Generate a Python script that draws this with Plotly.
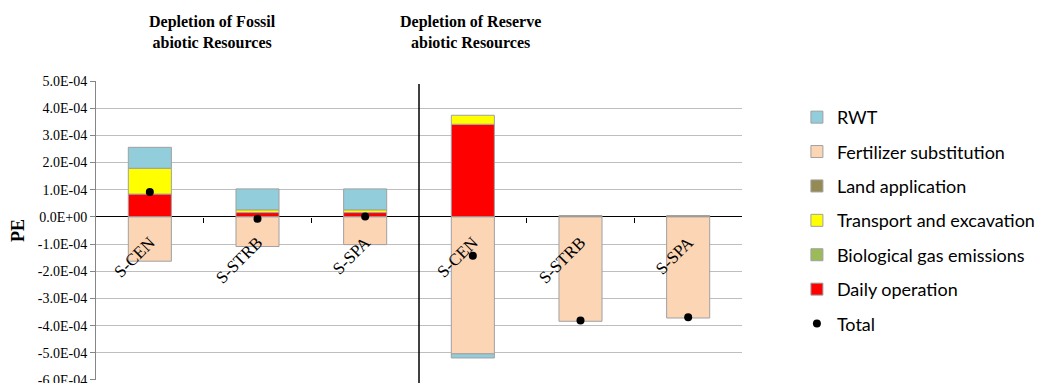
import plotly.graph_objects as go

categories = ["S-CEN", "S-STRB", "S-SPA", "S-CEN", "S-STRB", "S-SPA"]
x_pos = [0, 1, 2, 3, 4, 5]

daily_operation = [0.84e-4, 0.16e-4, 0.16e-4, 3.41e-4, None, None]
biological_gas = [None, None, None, None, None, None]
transport_excavation = [0.95e-4, 0.10e-4, 0.10e-4, 0.33e-4, None, None]
land_application = [None, None, None, None, 0.05e-4, 0.05e-4]
fertilizer_substitution = [-1.63e-4, -1.09e-4, -1.02e-4, -5.04e-4, -3.84e-4, -3.72e-4]
rwt = [0.77e-4, 0.77e-4, 0.77e-4, -0.15e-4, None, None]
total = [0.92e-4, -0.07e-4, 0.01e-4, -1.43e-4, -3.81e-4, -3.69e-4]

y_tickvals = [5e-4, 4e-4, 3e-4, 2e-4, 1e-4, 0, -1e-4, -2e-4, -3e-4, -4e-4, -5e-4, -6e-4]
y_ticktext = ["5.0E-04", "4.0E-04", "3.0E-04", "2.0E-04", "1.0E-04", "0.0E+00",
              "-1.0E-04", "-2.0E-04", "-3.0E-04", "-4.0E-04", "-5.0E-04", "-6.0E-04"]

panel_titles = ["Depletion of Fossil<br>abiotic Resources",
                "Depletion of Reserve<br>abiotic Resources"]

series = [
    ("Daily operation", daily_operation, "#FF0000", 6),
    ("Biological gas emissions", biological_gas, "#9BBB59", 5),
    ("Transport and excavation", transport_excavation, "#FFFF00", 4),
    ("Land application", land_application, "#948A54", 3),
    ("Fertilizer substitution", fertilizer_substitution, "#FCD5B5", 2),
    ("RWT", rwt, "#92CDDC", 1),
]

fig = go.Figure()
for name, vals, color, rank in series:
    fig.add_trace(go.Bar(
        x=x_pos, y=vals, name=name, width=0.4,
        marker=dict(color=color, line=dict(color="#A0A0A0", width=1)),
        legendrank=rank, legendgroup=name,
    ))

fig.add_trace(go.Scatter(
    x=x_pos, y=total, name="Total", mode="markers",
    marker=dict(color="black", size=8),
    legendrank=7, legendgroup="Total",
))

fig.update_layout(
    barmode="relative",
    width=1042, height=383,
    margin=dict(l=96, r=300, t=81, b=3, autoexpand=False),
    plot_bgcolor="white", paper_bgcolor="white",
    showlegend=True,
    legend=dict(
        x=1.085, y=0.94, xanchor="left", yanchor="top",
        font=dict(family="Lato", size=18, color="black"),
        tracegroupgap=8, itemwidth=30,
    ),
    xaxis=dict(
        range=[-0.5, 5.5], anchor="free", position=6.001 / 11.001,
        tickmode="array", tickvals=x_pos, ticktext=categories,
        tickangle=-45, ticks="outside", ticklen=8, tickcolor="rgba(0,0,0,0)",
        tickfont=dict(family="Liberation Serif", size=17, color="black"),
        showgrid=False, showline=False, zeroline=False, automargin=False,
        ticklabeloverflow="allow",
        minor=dict(tickvals=[0.5, 1.5, 3.5, 4.5], ticks="outside", ticklen=5,
                   tickcolor="black", tickwidth=1, showgrid=False),
    ),
    yaxis=dict(
        range=[-6.001e-4, 5e-4], tickmode="array", tickvals=y_tickvals, ticktext=y_ticktext,
        tickfont=dict(family="Liberation Serif", size=14, color="black"),
        showgrid=True, gridcolor="#BEBEBE", gridwidth=1,
        showline=True, linecolor="#868686", linewidth=1,
        ticks="outside", ticklen=5, tickcolor="#868686",
        zeroline=True, zerolinecolor="black", zerolinewidth=1,
        automargin=False, ticklabeloverflow="allow",
        title=dict(text="<b>PE</b>", font=dict(family="Liberation Serif", size=18, color="black"),
                   standoff=8),
    ),
    shapes=[dict(type="line", xref="x", yref="paper", x0=2.5, x1=2.5, y0=-0.02, y1=0.99,
                 line=dict(color="black", width=1.5))],
)

title_x = [0.181, 0.58]
for t, xp in zip(panel_titles, title_x):
    fig.add_annotation(text="<b>" + t + "</b>", x=xp, y=1.164, xref="paper", yref="paper",
                       xanchor="center", yanchor="middle", showarrow=False,
                       font=dict(family="Liberation Serif", size=16, color="black"))

fig.write_html("out.html")
